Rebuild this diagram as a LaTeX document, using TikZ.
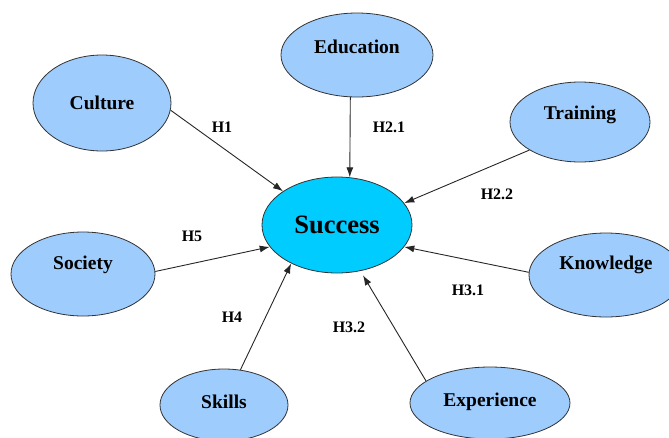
\documentclass[tikz,border=0pt]{standalone}
\usepackage{fontspec}
\setmainfont{Liberation Serif}
\usepackage{tikz}
\usetikzlibrary{arrows.meta,positioning,shapes.geometric}
\definecolor{factorblue}{RGB}{158,204,252}
\definecolor{successcyan}{RGB}{0,204,255}
\tikzset{font=\bfseries}
\tikzset{factor/.style={ellipse, draw=black!80, line width=0.8pt,
    fill=factorblue, inner sep=0pt}}
\tikzset{factortext/.style={font=\fontsize{19.5}{21}\selectfont\bfseries}}
\tikzset{hyp/.style={font=\fontsize{16}{18}\selectfont\bfseries}}
\tikzset{link/.style={-{Latex[length=10pt,width=7pt]}, line width=0.9pt,
    draw=black!85}}

\begin{document}
\begin{tikzpicture}[x=1pt,y=-1pt]
  \useasboundingbox (0,0) rectangle (669,437);

  % centre
  \node[factor, fill=successcyan, minimum width=150pt, minimum height=96pt,
  font=\fontsize{26.5}{28}\selectfont\bfseries] (success) at (337,225) {Success};

  % factors
  \node[factor, minimum width=152pt, minimum height=84pt,
  label={[factortext,yshift=8pt]center:Education}] (education) at (357,55) {};
  \node[factor, minimum width=138pt, minimum height=96pt,
  label={[factortext]center:Culture}] (culture) at (102,103) {};
  \node[factor, minimum width=140pt, minimum height=80pt,
  label={[factortext,yshift=7pt]center:Training}] (training) at (580,122) {};
  \node[factor, minimum width=144pt, minimum height=84pt,
  label={[factortext,yshift=9pt]center:Society}] (society) at (83,274) {};
  \node[factor, minimum width=154pt, minimum height=84pt,
  label={[factortext,yshift=10pt]center:Knowledge}] (knowledge) at (606,275) {};
  \node[factor, minimum width=128pt, minimum height=72pt,
  label={[factortext,yshift=3pt]center:Skills}] (skills) at (224,405) {};
  \node[factor, minimum width=160pt, minimum height=72pt,
  label={[factortext,yshift=1pt]center:Experience}] (experience) at (490,403) {};

  % hypotheses
  \draw[link] (culture.-6) -- (success.148);
  \draw[link] (education.-99) -- (success.75);
  \draw[link] (training.209) -- (success.18);
  \draw[link] (society.2) -- (success.198);
  \draw[link] (knowledge.178) -- (success.-18);
  \draw[link] (skills.65) -- (success.220);
  \draw[link, shorten >=5pt] (experience.161) -- (success.-63);

  \node[hyp] (h1) at (222,127) {H1};
  \node[hyp] (h21) at (389,127) {H2.1};
  \node[hyp] (h22) at (497,194) {H2.2};
  \node[hyp] (h5) at (192,236) {H5};
  \node[hyp] (h4) at (232,317) {H4};
  \node[hyp] (h32) at (349,327) {H3.2};
  \node[hyp] (h31) at (468,290) {H3.1};
\end{tikzpicture}
\end{document}
